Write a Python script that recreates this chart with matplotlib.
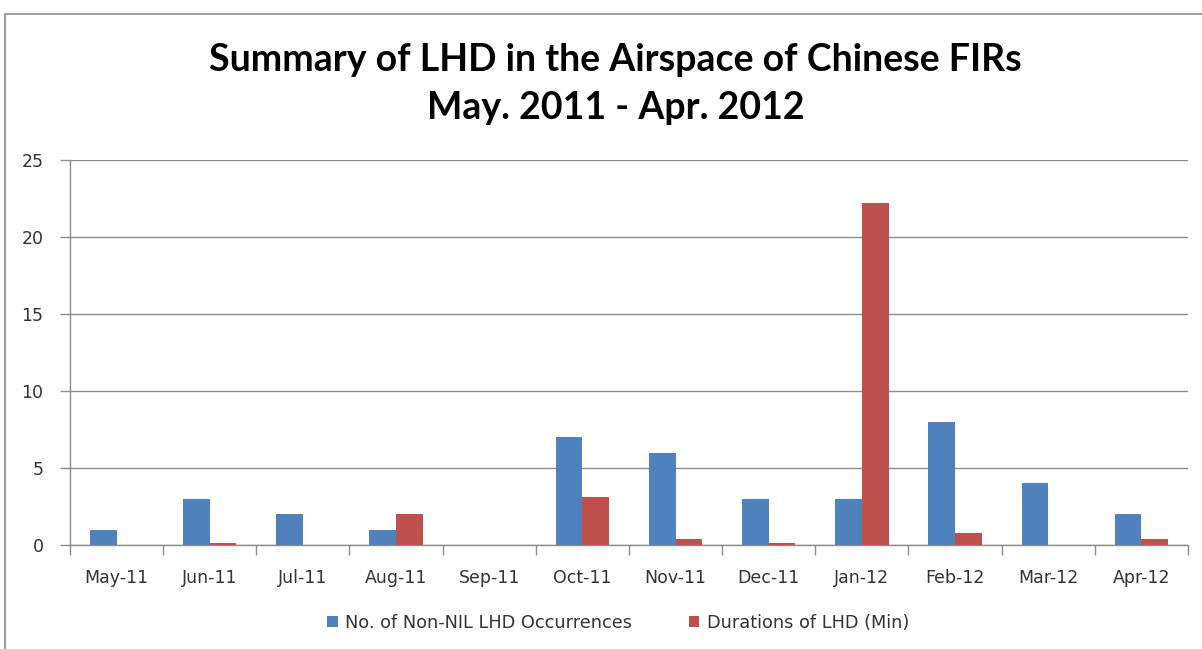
import matplotlib
matplotlib.use("Agg")
import matplotlib.pyplot as plt
import numpy as np
from matplotlib.patches import Rectangle

categories = ["May-11", "Jun-11", "Jul-11", "Aug-11", "Sep-11", "Oct-11",
              "Nov-11", "Dec-11", "Jan-12", "Feb-12", "Mar-12", "Apr-12"]
occurrences = [1, 3, 2, 1, 0, 7, 6, 3, 3, 8, 4, 2]
durations = [0, 0.15, 0, 2, 0, 3.1, 0.4, 0.15, 22.2, 0.75, 0, 0.4]
yticks = [0, 5, 10, 15, 20, 25]

plt.rcParams['font.family'] = ['DejaVu Sans']

fig = plt.figure(figsize=(12.02, 6.49), dpi=100)
fig.patches.append(Rectangle((5/1202, -0.1), 1.2, 1 - 14/649 + 0.1, transform=fig.transFigure,
                             fill=False, edgecolor='#8c8c8c', linewidth=1.2))
ax = fig.add_axes([70/1202, 1 - 545/649, (1188 - 70)/1202, (545 - 160)/649])

x = np.arange(len(categories))
w = 1 / 3.5
ax.bar(x - w/2, occurrences, w, color='#4F81BD', label='No. of Non-NIL LHD Occurrences',
       linewidth=0, zorder=3)
ax.bar(x + w/2, durations, w, color='#C0504D', label='Durations of LHD (Min)',
       linewidth=0, zorder=3)

ax.set_xlim(-0.5, len(categories) - 0.5)
ax.set_ylim(0, 25)
ax.set_yticks(yticks)
ax.set_yticklabels([str(v) for v in yticks], fontsize=12.5, color='#333333')
ax.yaxis.grid(True, color='#8c8c8c', linewidth=1, zorder=0)
ax.set_axisbelow(True)

ax.set_xticks(x)
ax.set_xticklabels(categories, fontsize=12.5, color='#333333')
ax.tick_params(axis='x', length=0, pad=17)
ax.set_xticks(np.arange(-0.5, len(categories) + 0.5, 1), minor=True)
ax.tick_params(axis='x', which='minor', length=7, color='#8c8c8c', width=1)
ax.tick_params(axis='y', length=7, color='#8c8c8c', width=1, pad=12)

for s in ['top', 'right']:
    ax.spines[s].set_visible(False)
for s in ['left', 'bottom']:
    ax.spines[s].set_color('#8c8c8c')
    ax.spines[s].set_linewidth(1)

fig.text(0.512, 1 - 60/649, "Summary of LHD in the Airspace of Chinese FIRs",
         ha='center', va='center', fontsize=27, fontweight='bold', family='Lato')
fig.text(0.512, 1 - 108/649, "May. 2011 - Apr. 2012",
         ha='center', va='center', fontsize=27, fontweight='bold', family='Lato')

fig.legend(loc='center', bbox_to_anchor=(618/1202, 1 - 623/649), ncol=2, frameon=False,
           fontsize=12.8, handlelength=0.6, handleheight=0.6, columnspacing=3.2, handletextpad=0.4,
           labelcolor='#333333')

fig.savefig("out.png", dpi=100)
